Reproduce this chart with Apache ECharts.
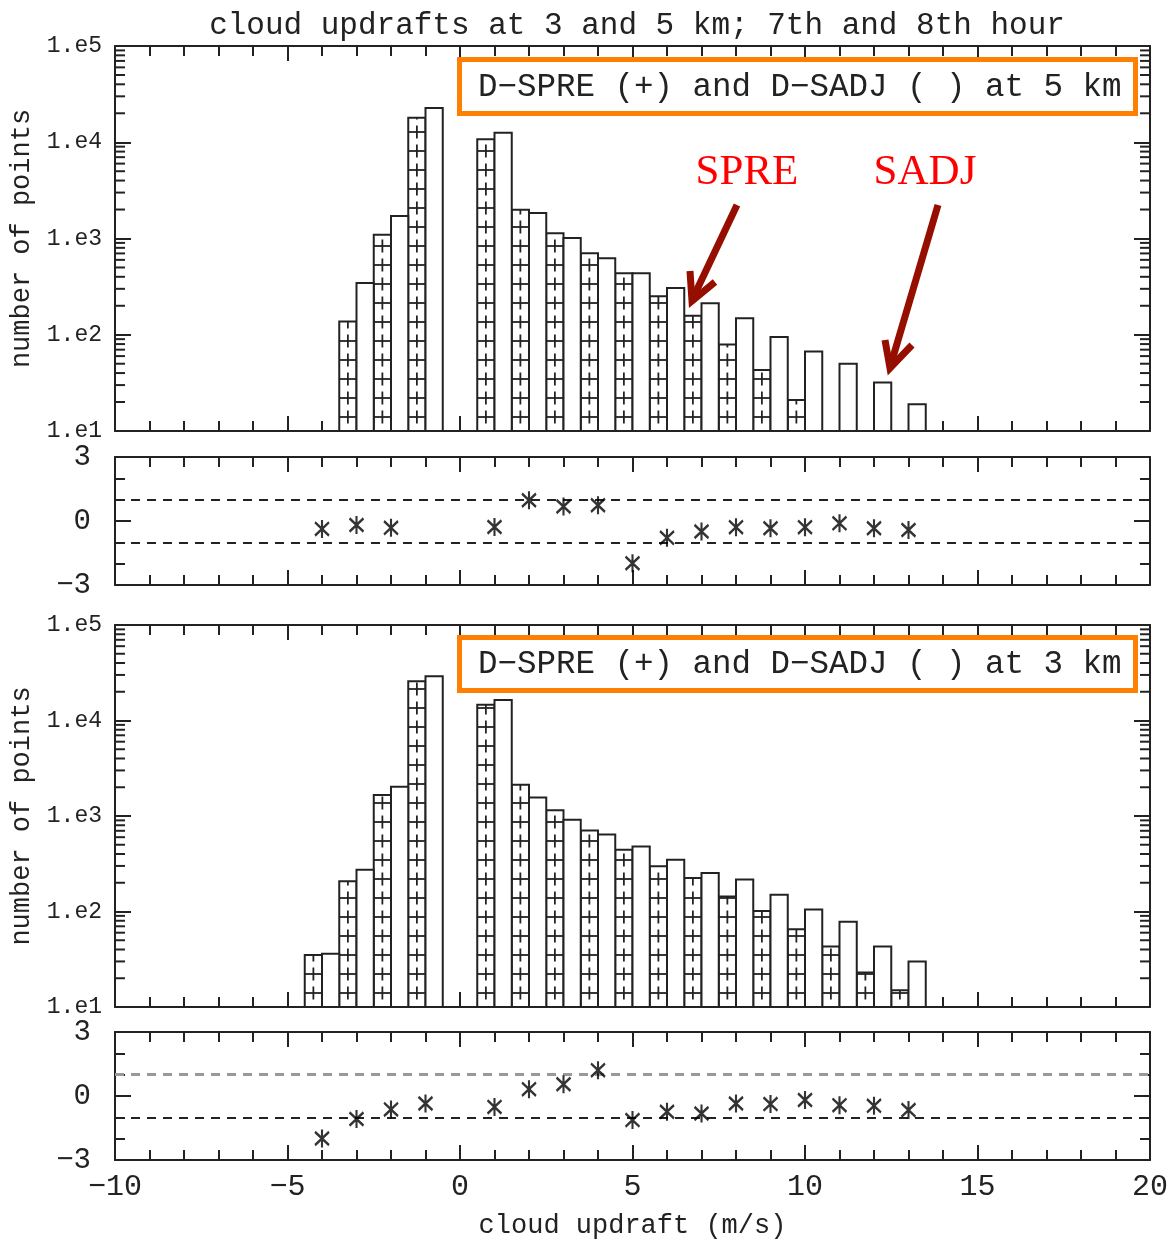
<!DOCTYPE html>
<html>
<head>
<meta charset="utf-8">
<script src="https://cdn.jsdelivr.net/npm/echarts@6/dist/echarts.min.js"></script>
<style>
  html, body { margin: 0; padding: 0; background: #fff; }
  #main { width: 1173px; height: 1249px; }
</style>
</head>
<body>
<div id="main"></div>
<script>
// histogram bins (centre of each 1 m/s bin) and counts, 5 km
const bins5 = [-3, -2, -1, 1, 2, 3, 4, 5, 6, 7, 8, 9, 10, 11, 12, 13];
const spre5 = [137, 1095, 18000, 10750, 1990, 1133, 702, 435, 251, 158, 79, 43, 21, null, null, null];
const sadj5 = [345, 1715, 22700, 12560, 1840, 1012, 622, 435, 306, 212, 148, 95, 67, 50, 32, 19];

// same for 3 km
const bins3 = [-4, -3, -2, -1, 1, 2, 3, 4, 5, 6, 7, 8, 9, 10, 11, 12, 13];
const spre3 = [35, 207, 1660, 25800, 14600, 2120, 1150, 706, 444, 297, 224, 144, 101, 65, 43, 23, 15];
const sadj3 = [36, 274, 2030, 29100, 16350, 1560, 912, 641, 480, 349, 253, 216, 150, 105, 78, 43, 30];

// normalised differences (stars)
const diffX5 = [-4, -3, -2, 1, 2, 3, 4, 5, 6, 7, 8, 9, 10, 11, 12, 13];
const diffY5 = [-0.37, -0.19, -0.32, -0.28, 0.97, 0.68, 0.74, -1.98, -0.79, -0.49, -0.29, -0.34, -0.29, -0.11, -0.34, -0.42];
const diffX3 = [-4, -3, -2, -1, 1, 2, 3, 4, 5, 6, 7, 8, 9, 10, 11, 12, 13];
const diffY3 = [-1.99, -1.08, -0.63, -0.35, -0.51, 0.32, 0.55, 1.21, -1.13, -0.74, -0.82, -0.35, -0.38, -0.19, -0.43, -0.46, -0.66];

const INK = '#222';
const FONT = '"Liberation Mono", monospace';
const minus = v => String(v).replace('-', '\u2212');

// minor ticks for the log axes (2..9 in every decade)
const logMinor = [];
for (let d = 10; d < 1e5; d *= 10) {
  for (let k = 2; k <= 9; k++) logMinor.push(k * d);
}

const chart = echarts.init(document.getElementById('main'));

function xAx(g, pos, showLabel, name) {
  return {
    type: 'value', gridIndex: g, position: pos, min: -10, max: 20, interval: 5,
    axisLine: {show: true, onZero: false, lineStyle: {color: INK, width: 2}},
    axisTick: {show: true, inside: true, length: 15, lineStyle: {color: INK, width: 2}},
    minorTick: {show: true, splitNumber: 5, length: 10, lineStyle: {color: INK, width: 2}},
    splitLine: {show: false},
    axisLabel: {show: showLabel, color: INK, fontFamily: FONT, fontSize: 30, margin: 12, formatter: minus},
    name: name || '', nameLocation: 'middle', nameGap: 52,
    nameTextStyle: {color: INK, fontFamily: FONT, fontSize: 27}
  };
}

function logAx(g, pos) {
  return {
    type: 'log', logBase: 10, gridIndex: g, position: pos, min: 10, max: 100000,
    axisLine: {show: true, onZero: false, lineStyle: {color: INK, width: 2}},
    axisTick: {show: true, inside: true, length: 16, lineStyle: {color: INK, width: 2}},
    minorTick: {show: false},
    splitLine: {show: false},
    axisLabel: {
      show: pos === 'left', color: INK, fontFamily: FONT, fontSize: 23, margin: 13,
      formatter: v => '1.e' + Math.round(Math.log10(v))
    },
    name: pos === 'left' ? 'number of points' : '', nameLocation: 'middle', nameRotate: 90, nameGap: 80,
    nameTextStyle: {color: INK, fontFamily: FONT, fontSize: 27}
  };
}

function diffAx(g, pos) {
  return {
    type: 'value', gridIndex: g, position: pos, min: -3, max: 3, interval: 3,
    axisLine: {show: true, onZero: false, lineStyle: {color: INK, width: 2}},
    axisTick: {show: true, inside: true, length: 16, lineStyle: {color: INK, width: 2}},
    minorTick: {show: true, splitNumber: 3, length: 10, lineStyle: {color: INK, width: 2}},
    splitLine: {show: false},
    axisLabel: {show: pos === 'left', color: INK, fontFamily: FONT, fontSize: 29, margin: 24, formatter: minus}
  };
}

function barItem(hatched) {
  return function (params, api) {
    const c = api.value(0), v = api.value(1);
    if (v == null || isNaN(v) || v <= 10) return;
    const x0 = hatched ? c - 0.5 : c;
    const tl = api.coord([x0, v]);
    const br = api.coord([x0 + 0.5, 10]);
    const children = [{
      type: 'rect',
      shape: {x: tl[0], y: tl[1], width: br[0] - tl[0], height: br[1] - tl[1]},
      style: {fill: '#fff', stroke: INK, lineWidth: 2}
    }];
    if (hatched) {
      const xm = (tl[0] + br[0]) / 2;
      for (let cy = br[1] - 14; cy + 6 > tl[1]; cy -= 19) {
        children.push({
          type: 'line',
          shape: {x1: xm, y1: Math.max(cy - 6.5, tl[1]), x2: xm, y2: cy + 6.5},
          style: {stroke: INK, lineWidth: 1.8}
        });
        if (cy > tl[1] + 1) {
          children.push({
            type: 'line',
            shape: {x1: tl[0], y1: cy, x2: br[0], y2: cy},
            style: {stroke: INK, lineWidth: 1.8}
          });
        }
      }
    }
    return {type: 'group', children: children};
  };
}

function minorTickItem(params, api) {
  const cs = params.coordSys;
  const y = api.coord([0, api.value(1)])[1];
  return {
    type: 'group',
    children: [
      {type: 'line', shape: {x1: cs.x, y1: y, x2: cs.x + 10, y2: y}, style: {stroke: INK, lineWidth: 2}},
      {type: 'line', shape: {x1: cs.x + cs.width - 10, y1: y, x2: cs.x + cs.width, y2: y}, style: {stroke: INK, lineWidth: 2}}
    ]
  };
}

const STAR = 'path://M5,0L5,10M0.8,1.3L9.2,8.7M0.8,8.7L9.2,1.3';

function histSeries(ax, bins, vals, hatched) {
  return {
    type: 'custom', xAxisIndex: ax, yAxisIndex: ax, renderItem: barItem(hatched),
    data: bins.map((c, i) => [c, vals[i]]), z: hatched ? 3 : 4, silent: true
  };
}

function starSeries(ax, xs, ys, upperColor, upperWidth) {
  return {
    type: 'scatter', xAxisIndex: ax, yAxisIndex: ax,
    data: xs.map((x, i) => [x, ys[i]]),
    symbol: STAR, symbolSize: [14, 18],
    itemStyle: {color: 'transparent', borderColor: '#000', borderWidth: 2.4},
    z: 5, silent: true,
    markLine: {
      silent: true, symbol: 'none', label: {show: false}, animation: false,
      lineStyle: {type: [9, 7], color: INK, width: 2},
      data: [
        {yAxis: 1, lineStyle: {type: [9, 7], color: upperColor, width: upperWidth}},
        {yAxis: -1}
      ]
    }
  };
}

const option = {
  animation: false,
  backgroundColor: '#fff',
  title: {
    text: 'cloud updrafts at 3 and 5 km; 7th and 8th hour',
    left: 632, top: 5, textAlign: 'center',
    textStyle: {color: INK, fontFamily: FONT, fontSize: 31, fontWeight: 'normal'}
  },
  grid: [
    {left: 115, right: 23, top: 46, height: 385},
    {left: 115, right: 23, top: 457, height: 128},
    {left: 115, right: 23, top: 625, height: 382},
    {left: 115, right: 23, top: 1032, height: 128}
  ],
  xAxis: [
    xAx(0, 'bottom', false), xAx(0, 'top', false),
    xAx(1, 'bottom', false), xAx(1, 'top', false),
    xAx(2, 'bottom', false), xAx(2, 'top', false),
    xAx(3, 'bottom', true, 'cloud updraft (m/s)'), xAx(3, 'top', false)
  ],
  yAxis: [
    logAx(0, 'left'), logAx(0, 'right'),
    diffAx(1, 'left'), diffAx(1, 'right'),
    logAx(2, 'left'), logAx(2, 'right'),
    diffAx(3, 'left'), diffAx(3, 'right')
  ],
  series: [
    {type: 'custom', xAxisIndex: 0, yAxisIndex: 0, renderItem: minorTickItem, data: logMinor.map(v => [0, v]), silent: true},
    {type: 'custom', xAxisIndex: 4, yAxisIndex: 4, renderItem: minorTickItem, data: logMinor.map(v => [0, v]), silent: true},
    histSeries(0, bins5, spre5, true),
    histSeries(0, bins5, sadj5, false),
    histSeries(4, bins3, spre3, true),
    histSeries(4, bins3, sadj3, false),
    starSeries(2, diffX5, diffY5, INK, 2),
    starSeries(6, diffX3, diffY3, '#999', 3)
  ],
  graphic: [
    {type: 'rect', shape: {x: 459.5, y: 59.5, width: 676, height: 54}, style: {fill: 'none', stroke: '#ff7f00', lineWidth: 5}, z: 10},
    {type: 'text', x: 478, y: 87, style: {text: 'D\u2212SPRE (+) and D\u2212SADJ ( ) at 5 km', fill: INK, font: '32.5px ' + FONT, textVerticalAlign: 'middle'}, z: 10},
    {type: 'rect', shape: {x: 459.5, y: 637.5, width: 676, height: 53}, style: {fill: 'none', stroke: '#ff7f00', lineWidth: 5}, z: 10},
    {type: 'text', x: 478, y: 664, style: {text: 'D\u2212SPRE (+) and D\u2212SADJ ( ) at 3 km', fill: INK, font: '32.5px ' + FONT, textVerticalAlign: 'middle'}, z: 10},
    {type: 'text', x: 747, y: 173, style: {text: 'SPRE', fill: '#ff0000', font: '43px "Liberation Serif", serif', textAlign: 'center', textVerticalAlign: 'middle'}, z: 10},
    {type: 'text', x: 925, y: 173, style: {text: 'SADJ', fill: '#ff0000', font: '43px "Liberation Serif", serif', textAlign: 'center', textVerticalAlign: 'middle'}, z: 10},
    {type: 'polyline', shape: {points: [[737, 205], [693, 298]]}, style: {stroke: '#950e00', lineWidth: 7, fill: 'none'}, z: 10},
    {type: 'polyline', shape: {points: [[690, 271], [692, 301], [715, 282]]}, style: {stroke: '#950e00', lineWidth: 7, fill: 'none', lineJoin: 'miter'}, z: 10},
    {type: 'polyline', shape: {points: [[938, 205], [891, 364]]}, style: {stroke: '#950e00', lineWidth: 7, fill: 'none'}, z: 10},
    {type: 'polyline', shape: {points: [[885, 340], [890, 368], [912, 345]]}, style: {stroke: '#950e00', lineWidth: 7, fill: 'none', lineJoin: 'miter'}, z: 10}
  ]
};

chart.setOption(option);
</script>
</body>
</html>
